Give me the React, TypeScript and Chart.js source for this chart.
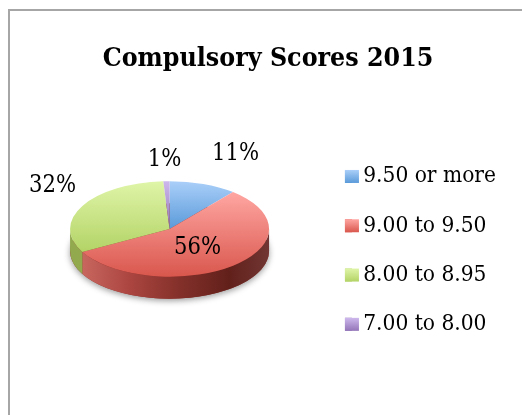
import React, { useEffect, useRef } from "react";
import { Chart, registerables } from "chart.js";

Chart.register(...registerables);

const categories = ["9.50 or more", "9.00 to 9.50", "8.00 to 8.95", "7.00 to 8.00"];
const shares = [11, 56, 32, 1];
const percentLabels = ["11%", "56%", "32%", "1%"];
const lightColors = ["#aacff9", "#ffa6a2", "#dff5a8", "#cdb8ec"];
const darkColors = ["#5a9ad9", "#d9574d", "#b3d366", "#9375b8"];
const wallColors = ["#3f6d9e", "#a33f39", "#92a94e", "#6c548a"];
const labelOffsets = [
  [66, -75],
  [28, 19],
  [-117, -43],
  [-5, -69],
];

const FONT = '"DejaVu Serif Condensed", "Liberation Serif", serif';
const SQUASH = 0.48;
const LIFT = -20;
const SHIFT = -4.5;
const DEPTH = 22;
const SWATCH_WIDTH = 14;

const pie3d = {
  id: "pie3d",
  beforeDraw(chart: any) {
    const { ctx, width, height } = chart;
    ctx.save();
    ctx.fillStyle = "#ffffff";
    ctx.fillRect(0, 0, width, height);
    ctx.strokeStyle = "#a6a6a6";
    ctx.lineWidth = 2;
    ctx.beginPath();
    ctx.moveTo(9, height);
    ctx.lineTo(9, 10);
    ctx.lineTo(width - 2, 10);
    ctx.stroke();
    ctx.restore();
  },
  beforeDatasetDraw(chart: any) {
    const { ctx } = chart;
    const arcs = chart.getDatasetMeta(0).data;
    const cx = arcs[0].x + SHIFT;
    const cy = arcs[0].y + LIFT;
    const r = arcs[0].outerRadius;
    const ry = r * SQUASH;

    ctx.save();
    ctx.shadowColor = "rgba(0,0,0,0.4)";
    ctx.shadowBlur = 6;
    ctx.shadowOffsetY = 2;
    ctx.fillStyle = "#8a2e28";
    ctx.beginPath();
    ctx.ellipse(cx, cy + DEPTH, r, ry, 0, 0, Math.PI * 2);
    ctx.fill();
    ctx.restore();

    arcs.forEach((arc: any, i: number) => {
      const from = Math.max(arc.startAngle, 0);
      const to = Math.min(arc.endAngle, Math.PI);
      if (to <= from) return;
      const g = ctx.createLinearGradient(cx - r, 0, cx + r, 0);
      if (i === 1) {
        g.addColorStop(0, "#cf6f66");
        g.addColorStop(0.3, "#ab4540");
        g.addColorStop(0.55, "#84302a");
        g.addColorStop(0.8, "#62201b");
        g.addColorStop(1, "#713633");
      } else {
        g.addColorStop(0, wallColors[i]);
        g.addColorStop(1, wallColors[i]);
      }
      ctx.fillStyle = g;
      ctx.beginPath();
      ctx.ellipse(cx, cy, r, ry, 0, from, to);
      ctx.ellipse(cx, cy + DEPTH, r, ry, 0, to, from, true);
      ctx.closePath();
      ctx.fill();
    });

    ctx.save();
    ctx.translate(cx, cy);
    ctx.scale(1, SQUASH);
    ctx.translate(-arcs[0].x, -arcs[0].y);
    arcs.forEach((arc: any, i: number) => {
      let low = Infinity;
      let high = -Infinity;
      const pts = [arc.y];
      for (let s = 0; s <= 40; s++) {
        pts.push(arc.y + r * Math.sin(arc.startAngle + ((arc.endAngle - arc.startAngle) * s) / 40));
      }
      pts.forEach((p) => {
        low = Math.min(low, p);
        high = Math.max(high, p);
      });
      const g = ctx.createLinearGradient(0, low, 0, high);
      g.addColorStop(0, lightColors[i]);
      g.addColorStop(1, darkColors[i]);
      arc.options = { ...arc.options, backgroundColor: g, borderWidth: 0 };
      arc.draw(ctx);
    });
    ctx.restore();
    return false;
  },
  afterDraw(chart: any) {
    const { ctx } = chart;
    const arcs = chart.getDatasetMeta(0).data;
    const cx = arcs[0].x + SHIFT;
    const cy = arcs[0].y + LIFT;
    ctx.save();
    ctx.fillStyle = "#000000";
    ctx.font = `23.5px ${FONT}`;
    ctx.textAlign = "center";
    ctx.textBaseline = "middle";
    percentLabels.forEach((text, i) => {
      ctx.fillText(text, cx + labelOffsets[i][0], cy + labelOffsets[i][1]);
    });
    const boxes = chart.legend.legendHitBoxes;
    const boxH = chart.options.plugins.legend.labels.boxHeight;
    boxes.forEach((hit: any, i: number) => {
      const top = hit.top + (hit.height - boxH) / 2;
      const g = ctx.createLinearGradient(0, top, 0, top + boxH);
      g.addColorStop(0, lightColors[i]);
      g.addColorStop(1, darkColors[i]);
      ctx.fillStyle = g;
      ctx.fillRect(hit.left, top, SWATCH_WIDTH, boxH);
    });
    ctx.restore();
  },
};

export default function App() {
  const ref = useRef<HTMLCanvasElement>(null);
  useEffect(() => {
    const chart = new Chart(ref.current as HTMLCanvasElement, {
      type: "pie",
      data: {
        labels: categories,
        datasets: [{ data: shares, backgroundColor: darkColors, borderWidth: 0, radius: 99.5 }],
      },
      options: {
        responsive: false,
        animation: false,
        events: [],
        layout: { padding: { left: 30, right: 18 } },
        plugins: {
          tooltip: { enabled: false },
          title: {
            display: true,
            text: "Compulsory Scores 2015",
            color: "#000000",
            font: { family: FONT, size: 26.5, weight: "bold", lineHeight: 1.2 },
            padding: { top: 43, bottom: 8 },
          },
          legend: {
            display: true,
            position: "right",
            title: { display: true, text: "", padding: { top: 57, bottom: 0 }, font: { size: 24 } },
            labels: {
              color: "#000000",
              font: { family: FONT, size: 22.5 },
              boxWidth: 7,
              boxHeight: 13,
              padding: 26.8,
            },
          },
        },
      },
      plugins: [pie3d],
    } as any);
    return () => chart.destroy();
  }, []);
  return (
    <div style={{ position: "absolute", left: 0, top: 0, width: 524, height: 415 }}>
      <canvas ref={ref} width={524} height={415} style={{ display: "block" }} />
    </div>
  );
}
